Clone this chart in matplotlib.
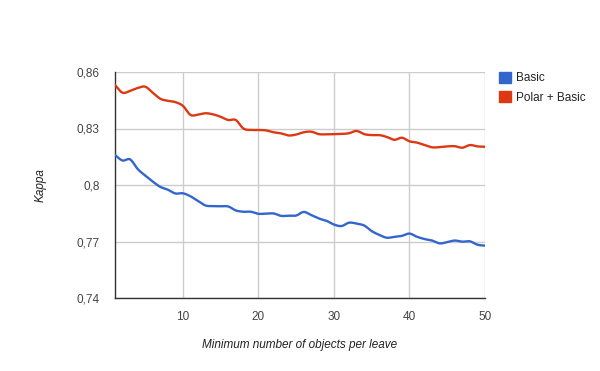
import matplotlib
matplotlib.use("Agg")
import matplotlib.pyplot as plt
from matplotlib.ticker import FuncFormatter
import matplotlib.patches as mpatches
import numpy as np

plt.rcParams['font.family'] = ['Liberation Sans', 'DejaVu Sans']

x = list(range(1, 51))
basic = [0.8159, 0.8130, 0.8136, 0.8085, 0.8050, 0.8018, 0.7990, 0.7975, 0.7955, 0.7956,
         0.7940, 0.7915, 0.7891, 0.7888, 0.7887, 0.7886, 0.7865, 0.7858, 0.7858, 0.7847,
         0.7848, 0.7849, 0.7836, 0.7837, 0.7838, 0.7857, 0.7840, 0.7822, 0.7810, 0.7790,
         0.7782, 0.7800, 0.7795, 0.7785, 0.7755, 0.7735, 0.7720, 0.7725, 0.7730, 0.7742,
         0.7725, 0.7713, 0.7705, 0.7690, 0.7697, 0.7705, 0.7699, 0.7701, 0.7683, 0.7678]
polar = [0.8531, 0.8490, 0.8500, 0.8515, 0.8522, 0.8490, 0.8458, 0.8447, 0.8440, 0.8420,
         0.8372, 0.8374, 0.8381, 0.8375, 0.8362, 0.8345, 0.8345, 0.8300, 0.8292, 0.8292,
         0.8290, 0.8280, 0.8274, 0.8263, 0.8268, 0.8280, 0.8283, 0.8270, 0.8269, 0.8270,
         0.8271, 0.8275, 0.8287, 0.8270, 0.8265, 0.8265, 0.8255, 0.8240, 0.8251, 0.8232,
         0.8225, 0.8212, 0.8200, 0.8201, 0.8205, 0.8206, 0.8198, 0.8212, 0.8205, 0.8203]
series_names = ["Basic", "Polar + Basic"]
colors = ["#3366cc", "#dc3912"]
yticks = [0.74, 0.77, 0.80, 0.83, 0.86]
xticks = [10, 20, 30, 40, 50]


def smooth(xs, ys, n=12):
    """Catmull-Rom curve through the data points (like a 'function' curve)."""
    xs = np.asarray(xs, float)
    ys = np.asarray(ys, float)
    px = np.concatenate([[2 * xs[0] - xs[1]], xs, [2 * xs[-1] - xs[-2]]])
    py = np.concatenate([[2 * ys[0] - ys[1]], ys, [2 * ys[-1] - ys[-2]]])
    ox, oy = [], []
    t = np.linspace(0, 1, n, endpoint=False)
    for i in range(1, len(px) - 2):
        for P, out in ((px, ox), (py, oy)):
            p0, p1, p2, p3 = P[i - 1], P[i], P[i + 1], P[i + 2]
            out.extend(0.5 * ((2 * p1) + (-p0 + p2) * t + (2 * p0 - 5 * p1 + 4 * p2 - p3) * t ** 2
                              + (-p0 + 3 * p1 - 3 * p2 + p3) * t ** 3))
    ox.append(xs[-1])
    oy.append(ys[-1])
    return ox, oy


fig = plt.figure(figsize=(6, 3.71), dpi=100)
ax = fig.add_axes([115/600, 1-298/371, 370/600, 226/371])

for ys, c in zip([basic, polar], colors):
    sx, sy = smooth(x, ys)
    ax.plot(sx, sy, color=c, lw=1.7, solid_joinstyle='round', solid_capstyle='round', zorder=3)

ax.set_xlim(1, 50)
ax.set_ylim(0.74, 0.86)
ax.set_yticks(yticks)
ax.set_xticks(xticks)
ax.grid(True, color="#cccccc", lw=1)
ax.set_axisbelow(True)
ax.yaxis.set_major_formatter(FuncFormatter(lambda v, p: ("%g" % round(v, 2)).replace('.', ',')))
ax.tick_params(length=0, labelsize=8.5, colors="#444444")
ax.tick_params(axis='y', pad=11)
ax.tick_params(axis='x', pad=9)
for s in ["top", "right"]:
    ax.spines[s].set_visible(False)
for s in ["left", "bottom"]:
    ax.spines[s].set_color("#333333")
    ax.spines[s].set_linewidth(1)

fig.text(300/600, 1-345/371, "Minimum number of objects per leave", ha='center', va='center',
         style='italic', fontsize=8.5, color="#222222")
fig.text(41/600, 1-185/371, "Kappa", ha='center', va='center', rotation=90,
         style='italic', fontsize=8.5, color="#222222")

handles = [mpatches.Patch(color=c, label=n) for c, n in zip(colors, series_names)]
leg = fig.legend(handles=handles, loc='upper left', bbox_to_anchor=(488/600, 1-61/371),
                 frameon=False, fontsize=8.5, handlelength=1.05, handleheight=1.05,
                 handletextpad=0.45, labelspacing=0.6)
for t in leg.get_texts():
    t.set_color("#222222")

fig.savefig("out.png", dpi=100)
